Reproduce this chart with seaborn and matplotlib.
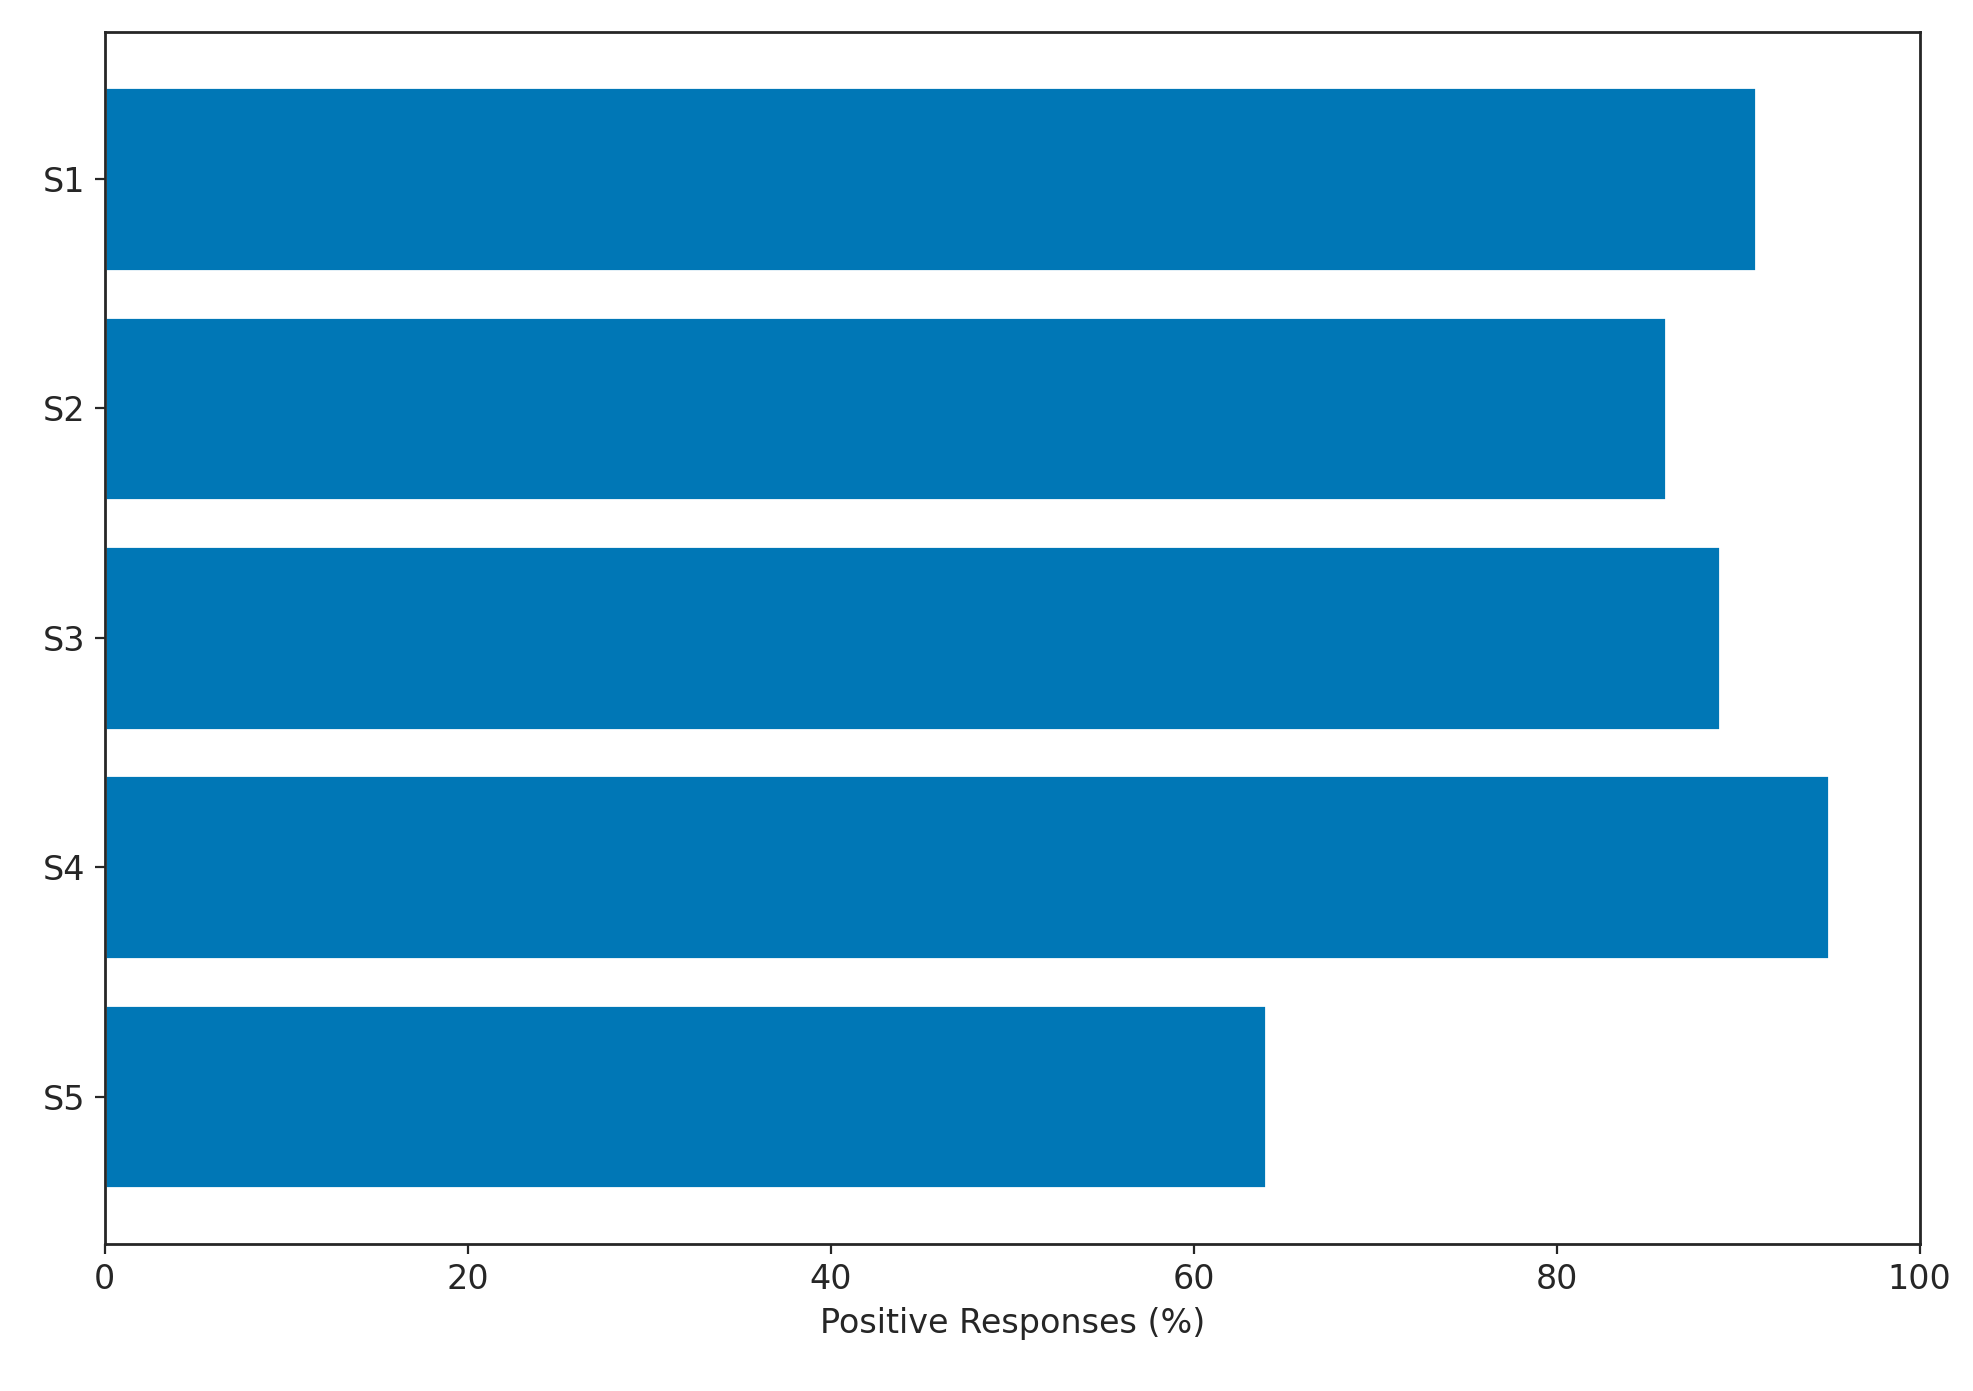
import matplotlib
matplotlib.use("Agg")
import matplotlib.pyplot as plt
import seaborn as sns
import pandas as pd

statements = ["S1", "S2", "S3", "S4", "S5"]
positive_pct = [91, 86, 89, 95, 64]

df = pd.DataFrame({"statement": statements, "pct": positive_pct})

sns.set_style("ticks")
plt.rcParams["font.family"] = ["DejaVu Sans"]

fig = plt.figure(figsize=(9.865, 6.955), dpi=200)
ax = fig.add_axes([0.053, 0.106, 0.92, 0.871])
sns.barplot(data=df, x="pct", y="statement", orient="h", color="#0077B6",
            saturation=1, width=0.8, ax=ax)
ax.set_xlim(0, 100)
ax.set_ylim(4.64, -0.64)
ax.set_xlabel("Positive Responses (%)", fontsize=12)
ax.set_ylabel("")
ax.tick_params(labelsize=12)
for s in ax.spines.values():
    s.set_visible(True)
    s.set_linewidth(1)
fig.savefig("out.png", dpi=200)
